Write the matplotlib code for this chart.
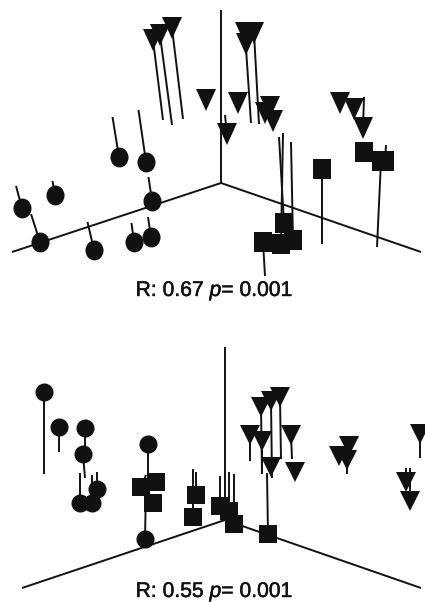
import matplotlib
matplotlib.use("Agg")
import matplotlib.pyplot as plt
import matplotlib.patheffects as pe
from matplotlib.markers import MarkerStyle
from matplotlib.transforms import Affine2D

plt.rcParams['font.family'] = ['Liberation Sans', 'DejaVu Sans']
plt.rcParams['mathtext.fontset'] = 'custom'
plt.rcParams['mathtext.rm'] = 'Liberation Sans'
plt.rcParams['mathtext.it'] = 'Liberation Sans:italic'

INK = '#111111'

# Panel 1 (projected ordination coordinates)
p1_axes_x = [[12, 221], [221, 221], [221, 421]]
p1_axes_y = [[252, 183], [10, 183], [183, 252]]
p1_circle_x = [22, 55, 40, 94, 119, 146, 152, 134, 151]
p1_circle_y = [208, 195, 242, 250, 157, 162, 201, 242, 237]
p1_circle_sx = [16, 52.5, 31, 87.5, 112.5, 138.5, 148.5, 131.5, 148]
p1_circle_sy = [186, 181, 214, 222, 117, 110, 177, 223, 217]
p1_tri_x = [153, 160, 172, 206, 245, 254, 246, 238, 270, 265, 273, 227, 340, 354, 363]
p1_tri_y = [40, 35, 28, 100, 33, 33, 44, 103, 107, 113, 121, 134, 103, 109, 128]
p1_tri_sx = [163, 172, 183, 206, 251, 259, 246, 238, 270, 265, 273, 225, 340, 354, 364]
p1_tri_sy = [120, 125, 119, 100, 123, 124, 44, 103, 107, 113, 121, 115, 103, 109, 97]
p1_sq_x = [284, 263, 281, 293, 322, 364, 381, 385]
p1_sq_y = [223, 242, 244, 240, 169, 152, 161, 161]
p1_sq_sx = [279, 265, 283, 291, 322, 365, 377, 386]
p1_sq_sy = [137, 276, 133, 142, 244, 142, 247, 145]
p1_label = ['R: 0.67 ', '= 0.001']

# Panel 2
p2_axes_x = [[22, 225], [225, 225], [225, 421]]
p2_axes_y = [[588, 520], [347, 520], [520, 588]]
p2_circle_x = [44, 59, 85, 83, 80, 92, 97, 148, 145]
p2_circle_y = [392, 427, 428, 454, 503, 503, 489, 444, 539]
p2_circle_sx = [44, 59, 85, 85, 80, 92, 97, 148, 146]
p2_circle_sy = [474, 452, 454, 478, 473, 475, 472, 480, 487]
p2_tri_x = [261, 271, 280, 250, 262, 291, 271, 295, 349, 339, 347, 420, 406, 410]
p2_tri_y = [407, 401, 397, 435, 441, 435, 467, 472, 446, 456, 460, 434, 482, 501]
p2_tri_sx = [262, 272, 281, 250, 262, 292, 271, 295, 349, 339, 347, 420, 406, 410]
p2_tri_sy = [474, 478, 459, 461, 474, 459, 467, 472, 446, 456, 474, 458, 468, 468]
p2_sq_x = [141, 156, 153, 196, 193, 220, 229, 234, 268]
p2_sq_y = [487, 482, 503, 495, 517, 506, 511, 524, 534]
p2_sq_sx = [146, 152, 153, 196, 193, 220, 229, 234, 267]
p2_sq_sy = [475, 482, 503, 472, 469, 476, 472, 474, 473]
p2_label = ['R: 0.55 ', '= 0.001']

fig = plt.figure(figsize=(4.25, 6.02), dpi=100)
ax = fig.add_axes([0, 0, 1, 1])
ax.set_xlim(0, 425)
ax.set_ylim(602, 0)
ax.axis('off')


def panel(axes_x, axes_y, cx, cy, csx, csy, tx, ty, tsx, tsy, qx, qy, qsx, qsy, yscale):
    for xs, ys in zip(axes_x, axes_y):
        ax.plot(xs, ys, color=INK, lw=1.4, solid_capstyle='butt', zorder=2)
    for mx, my, sx, sy in [(cx, cy, csx, csy), (tx, ty, tsx, tsy), (qx, qy, qsx, qsy)]:
        for a, b, c, d in zip(mx, my, sx, sy):
            if (a, b) != (c, d):
                ax.plot([a, c], [b, d], color=INK, lw=1.4, solid_capstyle='butt', zorder=2)
    scale = Affine2D().scale(1, yscale)
    ax.plot(cx, cy, ls='', marker=MarkerStyle('o', transform=scale), ms=13.0,
            color=INK, mew=0, zorder=3)
    ax.plot(tx, ty, ls='', marker=MarkerStyle('v', transform=scale), ms=14.2,
            color=INK, mew=0, zorder=3)
    ax.plot(qx, qy, ls='', marker=MarkerStyle('s', transform=scale), ms=13.5,
            color=INK, mew=0, zorder=3)


panel(p1_axes_x, p1_axes_y, p1_circle_x, p1_circle_y, p1_circle_sx, p1_circle_sy,
      p1_tri_x, p1_tri_y, p1_tri_sx, p1_tri_sy, p1_sq_x, p1_sq_y, p1_sq_sx, p1_sq_sy, 1.1)
panel(p2_axes_x, p2_axes_y, p2_circle_x, p2_circle_y, p2_circle_sx, p2_circle_sy,
      p2_tri_x, p2_tri_y, p2_tri_sx, p2_tri_sy, p2_sq_x, p2_sq_y, p2_sq_sx, p2_sq_sy, 1.0)

stroke = [pe.withStroke(linewidth=0.35, foreground=INK)]
ax.text(214.5, 291, p1_label[0] + r'$\mathit{p}$' + p1_label[1], ha='center', va='center',
        fontsize=15.2, color=INK, path_effects=stroke)
ax.text(214.5, 592, p2_label[0] + r'$\mathit{p}$' + p2_label[1], ha='center', va='center',
        fontsize=15.2, color=INK, path_effects=stroke)

fig.savefig('out.png', dpi=100)
